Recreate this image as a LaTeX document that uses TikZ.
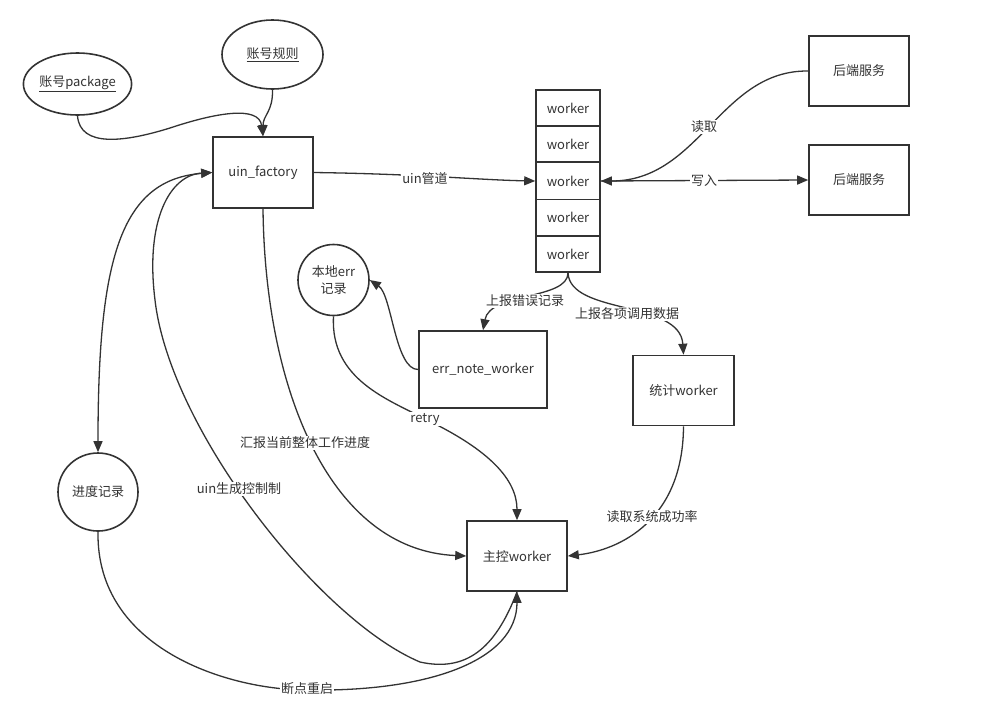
\documentclass[tikz,border=0pt]{standalone}
\usepackage{fontspec}
\setmainfont{Noto Sans CJK SC}
\usetikzlibrary{arrows.meta,shapes.geometric}
\definecolor{ink}{HTML}{333333}
\begin{document}
\begin{tikzpicture}[x=1pt,y=-1pt,
  txt/.style={text=ink,font=\fontsize{13}{17}\selectfont},
  box/.style={txt,draw=ink,line width=1.6pt,rectangle,inner sep=0pt,align=center},
  oval/.style={txt,draw=ink,line width=1.6pt,ellipse,inner sep=0pt,align=center},
  edge/.style={draw=ink,line width=1.3pt,-{Triangle[length=11pt,width=9pt]}},
  both/.style={draw=ink,line width=1.3pt,{Triangle[length=11pt,width=9pt]}-{Triangle[length=11pt,width=9pt]}},
  lbl/.style={txt,fill=white,inner sep=1pt}]
\fill[white] (0,0) rectangle (984,705);
\useasboundingbox (0,0) rectangle (984,705);

% nodes
\node[oval,minimum width=99pt,minimum height=62pt] (pkg) at (77.5,84) {\underline{账号package}};
\node[oval,minimum width=101pt,minimum height=69pt] (rule) at (272.5,54.5) {\underline{账号规则}};
\node[box,minimum width=100pt,minimum height=71pt] (uf) at (263,172.5) {uin\_factory};
\node[box,minimum width=64pt,minimum height=36pt] (w1) at (568,108) {worker};
\node[box,minimum width=64pt,minimum height=36pt] (w2) at (568,144) {worker};
\node[box,minimum width=64pt,minimum height=37pt] (w3) at (568,181) {worker};
\node[box,minimum width=64pt,minimum height=36pt] (w4) at (568,217.5) {worker};
\node[box,minimum width=64pt,minimum height=36pt] (w5) at (568,254) {worker};
\node[box,minimum width=100pt,minimum height=70pt] (be1) at (859,71) {后端服务};
\node[box,minimum width=100pt,minimum height=70pt] (be2) at (859,180) {后端服务};
\node[oval,minimum width=71pt,minimum height=71pt] (loc) at (333.5,280) {本地err\\记录};
\node[box,minimum width=128pt,minimum height=77pt] (err) at (483,369.5) {err\_note\_worker};
\node[box,minimum width=101pt,minimum height=70pt] (stat) at (683.5,390.5) {统计worker};
\node[box,minimum width=100pt,minimum height=70pt] (mc) at (517,556) {主控worker};
\node[oval,minimum width=80pt,minimum height=78pt] (prog) at (98,492) {进度记录};

% connectors
\draw[edge] (pkg.south) .. controls (80,148) and (125,142) .. (170,128)
  .. controls (215,113) and (259,105) .. (uf.north);
\draw[edge] (rule.south) .. controls (273,112) and (263,115) .. (uf.north);
\draw[edge] (uf.east) .. controls (420,174) and (480,180) .. (w3.west);
\draw[edge] (uf.south) .. controls (265,390) and (330,550) .. (mc.west);
\draw[edge] (mc.south) .. controls (495,650) and (465,672) .. (420,662)
  .. controls (320,620) and (170,430) .. (155,300)
  .. controls (145,220) and (170,175) .. (uf.west);
\draw[both] (uf.west) .. controls (120,180) and (98,260) .. (prog.north);
\draw[edge] (prog.south) .. controls (96,650) and (230,690) .. (307,690)
  .. controls (430,692) and (517,660) .. (mc.south);
\draw[edge] (err.west) .. controls (395,370) and (392,295) .. (loc.east);
\draw[edge] (loc.south) .. controls (330,380) and (390,400) .. (425,419)
  .. controls (490,450) and (517,480) .. (mc.north);
\draw[edge] (w5.south) .. controls (568,300) and (490,292) .. (err.north);
\draw[edge] (w5.south) .. controls (570,315) and (680,300) .. (stat.north);
\draw[edge] (stat.south) .. controls (683,520) and (620,550) .. (mc.east);
\draw[edge] (be1.west) .. controls (720,70) and (700,181) .. (w3.east);
\draw[edge] (w3.east) -- (be2.west);

% labels
\node[lbl] (l1) at (425,179) {uin管道};
\node[lbl] (l2) at (704,127) {读取};
\node[lbl] (l3) at (704,181) {写入};
\node[lbl] (l4) at (525,301) {上报错误记录};
\node[lbl] (l5) at (627,314) {上报各项调用数据};
\node[lbl] (l6) at (425,419) {retry};
\node[lbl] (l7) at (305,443) {汇报当前整体工作进度};
\node[lbl] (l8) at (239,489) {uin生成控制制};
\node[lbl] (l9) at (652,517) {读取系统成功率};
\node[lbl] (l10) at (307,689) {断点重启};
\end{tikzpicture}
\end{document}
